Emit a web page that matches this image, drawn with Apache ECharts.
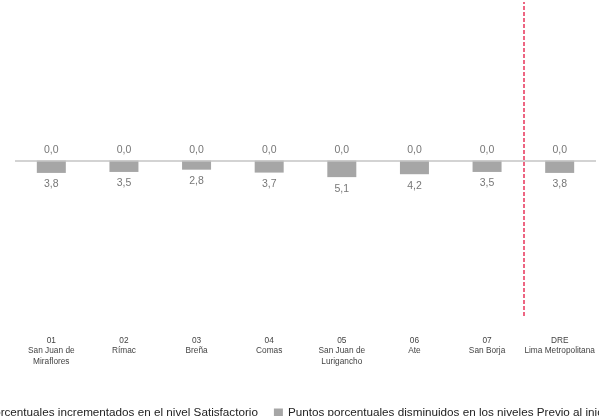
<!DOCTYPE html>
<html><head><meta charset="utf-8">
<script src="https://cdn.jsdelivr.net/npm/echarts@6/dist/echarts.min.js"></script>
<style>html,body{margin:0;padding:0;background:#fff}#c{width:599px;height:416px}</style>
</head><body><div id="c"></div>
<script>
const categories = ['01\nSan Juan de\nMiraflores', '02\nRímac', '03\nBreña', '04\nComas', '05\nSan Juan de\nLurigancho', '06\nAte', '07\nSan Borja', 'DRE\nLima Metropolitana'];
const incrementados = [0.0, 0.0, 0.0, 0.0, 0.0, 0.0, 0.0, 0.0];
const disminuidos = [3.8, 3.5, 2.8, 3.7, 5.1, 4.2, 3.5, 3.8];
const seriesNames = ['Puntos porcentuales incrementados en el nivel Satisfactorio', 'Puntos porcentuales disminuidos en los niveles Previo al inicio y En inicio'];
const dividerAt = 7;

const fmt = p => Math.abs(p.value).toFixed(1).replace('.', ',');
const chart = echarts.init(document.getElementById('c'));
chart.setOption({
  animation: false,
  backgroundColor: '#fff',
  grid: { left: 15, right: 3, top: 2, bottom: 100 },
  legend: {
    left: -71, top: 402, width: 1400, orient: 'horizontal',
    itemWidth: 9, itemHeight: 9, itemGap: 16,
    icon: 'rect',
    textStyle: { fontFamily: 'Liberation Sans', fontSize: 11.7, color: '#222' },
    data: seriesNames
  },
  xAxis: [{
    type: 'category', data: categories,
    axisLine: { show: false }, axisTick: { show: false },
    axisLabel: { margin: 19, fontFamily: 'Liberation Sans', fontSize: 8.3, lineHeight: 10.5, color: '#444', interval: 0 }
  }, {
    type: 'value', min: 0, max: categories.length, show: false
  }],
  yAxis: { type: 'value', min: -48, max: 49, show: false, splitLine: { show: false } },
  series: [{
    name: seriesNames[0], type: 'bar', stack: 'a', barWidth: 29,
    itemStyle: { color: '#70ad47' },
    data: incrementados,
    label: { show: true, position: 'top', distance: 5, formatter: fmt, fontFamily: 'Liberation Sans', fontSize: 10.5, color: '#777' },
    markLine: { silent: true, symbol: ['none', 'none'], label: { show: false },
      lineStyle: { color: '#c4c4c4', width: 1.5, type: 'solid' }, data: [{ yAxis: 0 }] }
  }, {
    name: seriesNames[1], type: 'bar', stack: 'a', barWidth: 29,
    itemStyle: { color: '#a6a6a6' },
    data: disminuidos.map(v => -v),
    label: { show: true, position: 'bottom', distance: 6, formatter: fmt, fontFamily: 'Liberation Sans', fontSize: 10.5, color: '#777' }
  }, {
    type: 'line', xAxisIndex: 1, data: [[dividerAt, 0]], symbolSize: 0, showSymbol: false,
    lineStyle: { opacity: 0 }, silent: true,
    markLine: { silent: true, symbol: ['none', 'none'], label: { show: false },
      lineStyle: { color: '#e8335a', width: 1.5, type: [4, 2] }, data: [{ xAxis: dividerAt }] }
  }]
});
</script>
</body></html>
